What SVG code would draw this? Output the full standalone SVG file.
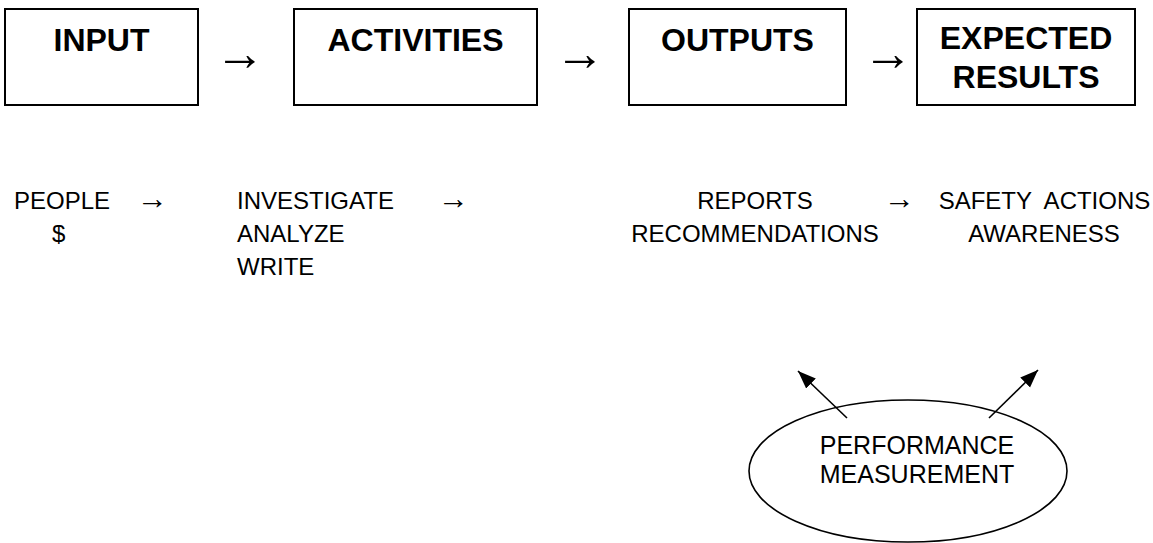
<svg xmlns="http://www.w3.org/2000/svg" width="1153" height="543" viewBox="0 0 1153 543">
<style>
.box{fill:#fff;stroke:#000;stroke-width:2}
.title{font-family:"Liberation Sans",Arial,sans-serif;font-weight:bold;font-size:32px;fill:#000;text-anchor:middle}
.lbl{font-family:"Liberation Sans",Arial,sans-serif;font-size:24px;fill:#000}
.mid{text-anchor:middle}
.arr{font-family:"Liberation Sans",Arial,sans-serif;fill:#000}
.big{font-size:50px}
.small{font-size:31px}
.conn{stroke:#000;stroke-width:1.6;fill:none}
.ell{fill:#fff;stroke:#000;stroke-width:1.6}
</style>
<defs>
<marker id="ah" markerUnits="userSpaceOnUse" markerWidth="19" markerHeight="15" refX="18" refY="7" orient="auto">
<path d="M0,0 L18,7 L0,14 z" fill="#000"/>
</marker>
</defs>
<rect width="1153" height="543" fill="#fff"/>
<g id="input">
<rect class="box" x="5" y="9" width="193" height="96"/>
<text class="title" x="101.5" y="51">INPUT</text>
</g>
<g id="activities">
<rect class="box" x="294" y="9" width="243" height="96"/>
<text class="title" x="415.5" y="51">ACTIVITIES</text>
</g>
<g id="outputs">
<rect class="box" x="629" y="9" width="217" height="96"/>
<text class="title" x="737.5" y="51">OUTPUTS</text>
</g>
<g id="expected-results">
<rect class="box" x="917" y="9" width="218" height="96"/>
<text class="title" x="1026" y="49">EXPECTED</text>
<text class="title" x="1026" y="88">RESULTS</text>
</g>
<g id="input-items">
<text class="lbl" x="14" y="209">PEOPLE</text>
<text class="lbl" x="52" y="242">$</text>
</g>
<g id="activity-items">
<text class="lbl" x="237" y="209">INVESTIGATE</text>
<text class="lbl" x="237" y="242">ANALYZE</text>
<text class="lbl" x="237" y="275">WRITE</text>
</g>
<g id="output-items">
<text class="lbl mid" x="755" y="209">REPORTS</text>
<text class="lbl mid" x="755" y="242">RECOMMENDATIONS</text>
</g>
<g id="result-items">
<text class="lbl mid" x="1044.5" y="209" xml:space="preserve">SAFETY  ACTIONS</text>
<text class="lbl mid" x="1044" y="242">AWARENESS</text>
</g>
<g id="performance-measurement">
<ellipse class="ell" cx="908" cy="471" rx="159" ry="71"/>
<text class="lbl mid" x="917" y="454" style="font-size:25px">PERFORMANCE</text>
<text class="lbl mid" x="917" y="483" style="font-size:25px">MEASUREMENT</text>
</g>
<g id="connectors">
<text class="arr big" x="215" y="69.5">→</text>
<text class="arr big" x="555" y="69.5">→</text>
<text class="arr big" x="863" y="69.5">→</text>
<text class="arr small" x="137" y="208.5">→</text>
<text class="arr small" x="438" y="208.5">→</text>
<text class="arr small" x="884" y="208.5">→</text>
<line class="conn" x1="847" y1="418" x2="798" y2="371" marker-end="url(#ah)"/>
<line class="conn" x1="989" y1="418" x2="1038" y2="370" marker-end="url(#ah)"/>
</g>
</svg>
